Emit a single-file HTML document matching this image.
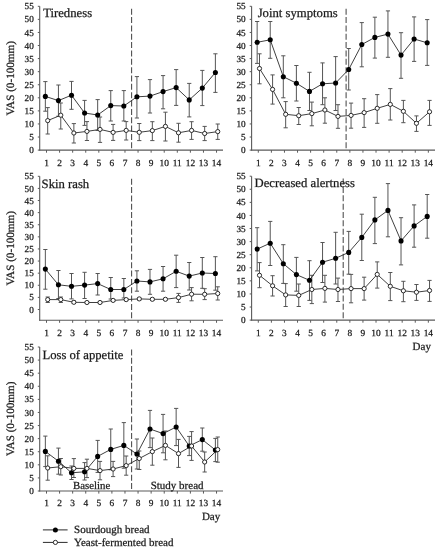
<!DOCTYPE html>
<html><head><meta charset="utf-8"><style>
html,body{margin:0;padding:0;background:#fff;}
body{width:442px;height:550px;overflow:hidden;}
svg{display:block;filter:blur(0.3px);font-family:"Liberation Serif", serif;fill:#1a1a1a;text-rendering:geometricPrecision;}
text{fill:#1a1a1a;stroke:#1a1a1a;stroke-width:0.25px;}
</style></head><body>
<svg width="442" height="550" viewBox="0 0 442 550">
<line x1="39.7" y1="6.3" x2="39.7" y2="150.6" stroke="#5a5a5a" stroke-width="1.1"/>
<line x1="39.2" y1="150.1" x2="223" y2="150.1" stroke="#5a5a5a" stroke-width="1.1"/>
<line x1="37.8" y1="150.1" x2="39.7" y2="150.1" stroke="#5a5a5a" stroke-width="1"/>
<text x="33.8" y="153.2" text-anchor="end" font-size="9.2">0</text>
<line x1="37.8" y1="137.03" x2="39.7" y2="137.03" stroke="#5a5a5a" stroke-width="1"/>
<text x="33.8" y="140.13" text-anchor="end" font-size="9.2">5</text>
<line x1="37.8" y1="123.95" x2="39.7" y2="123.95" stroke="#5a5a5a" stroke-width="1"/>
<text x="33.8" y="127.05" text-anchor="end" font-size="9.2">10</text>
<line x1="37.8" y1="110.88" x2="39.7" y2="110.88" stroke="#5a5a5a" stroke-width="1"/>
<text x="33.8" y="113.98" text-anchor="end" font-size="9.2">15</text>
<line x1="37.8" y1="97.81" x2="39.7" y2="97.81" stroke="#5a5a5a" stroke-width="1"/>
<text x="33.8" y="100.91" text-anchor="end" font-size="9.2">20</text>
<line x1="37.8" y1="84.74" x2="39.7" y2="84.74" stroke="#5a5a5a" stroke-width="1"/>
<text x="33.8" y="87.84" text-anchor="end" font-size="9.2">25</text>
<line x1="37.8" y1="71.66" x2="39.7" y2="71.66" stroke="#5a5a5a" stroke-width="1"/>
<text x="33.8" y="74.76" text-anchor="end" font-size="9.2">30</text>
<line x1="37.8" y1="58.59" x2="39.7" y2="58.59" stroke="#5a5a5a" stroke-width="1"/>
<text x="33.8" y="61.69" text-anchor="end" font-size="9.2">35</text>
<line x1="37.8" y1="45.52" x2="39.7" y2="45.52" stroke="#5a5a5a" stroke-width="1"/>
<text x="33.8" y="48.62" text-anchor="end" font-size="9.2">40</text>
<line x1="37.8" y1="32.45" x2="39.7" y2="32.45" stroke="#5a5a5a" stroke-width="1"/>
<text x="33.8" y="35.55" text-anchor="end" font-size="9.2">45</text>
<line x1="37.8" y1="19.37" x2="39.7" y2="19.37" stroke="#5a5a5a" stroke-width="1"/>
<text x="33.8" y="22.47" text-anchor="end" font-size="9.2">50</text>
<line x1="37.8" y1="6.3" x2="39.7" y2="6.3" stroke="#5a5a5a" stroke-width="1"/>
<text x="33.8" y="9.4" text-anchor="end" font-size="9.2">55</text>
<line x1="46.5" y1="150.1" x2="46.5" y2="152.7" stroke="#5a5a5a" stroke-width="1"/>
<text x="46.5" y="165.6" text-anchor="middle" font-size="9.4">1</text>
<line x1="59.58" y1="150.1" x2="59.58" y2="152.7" stroke="#5a5a5a" stroke-width="1"/>
<text x="59.58" y="165.6" text-anchor="middle" font-size="9.4">2</text>
<line x1="72.66" y1="150.1" x2="72.66" y2="152.7" stroke="#5a5a5a" stroke-width="1"/>
<text x="72.66" y="165.6" text-anchor="middle" font-size="9.4">3</text>
<line x1="85.74" y1="150.1" x2="85.74" y2="152.7" stroke="#5a5a5a" stroke-width="1"/>
<text x="85.74" y="165.6" text-anchor="middle" font-size="9.4">4</text>
<line x1="98.82" y1="150.1" x2="98.82" y2="152.7" stroke="#5a5a5a" stroke-width="1"/>
<text x="98.82" y="165.6" text-anchor="middle" font-size="9.4">5</text>
<line x1="111.9" y1="150.1" x2="111.9" y2="152.7" stroke="#5a5a5a" stroke-width="1"/>
<text x="111.9" y="165.6" text-anchor="middle" font-size="9.4">6</text>
<line x1="124.98" y1="150.1" x2="124.98" y2="152.7" stroke="#5a5a5a" stroke-width="1"/>
<text x="124.98" y="165.6" text-anchor="middle" font-size="9.4">7</text>
<line x1="138.06" y1="150.1" x2="138.06" y2="152.7" stroke="#5a5a5a" stroke-width="1"/>
<text x="138.06" y="165.6" text-anchor="middle" font-size="9.4">8</text>
<line x1="151.14" y1="150.1" x2="151.14" y2="152.7" stroke="#5a5a5a" stroke-width="1"/>
<text x="151.14" y="165.6" text-anchor="middle" font-size="9.4">9</text>
<line x1="164.22" y1="150.1" x2="164.22" y2="152.7" stroke="#5a5a5a" stroke-width="1"/>
<text x="164.22" y="165.6" text-anchor="middle" font-size="9.4">10</text>
<line x1="177.3" y1="150.1" x2="177.3" y2="152.7" stroke="#5a5a5a" stroke-width="1"/>
<text x="177.3" y="165.6" text-anchor="middle" font-size="9.4">11</text>
<line x1="190.38" y1="150.1" x2="190.38" y2="152.7" stroke="#5a5a5a" stroke-width="1"/>
<text x="190.38" y="165.6" text-anchor="middle" font-size="9.4">12</text>
<line x1="203.46" y1="150.1" x2="203.46" y2="152.7" stroke="#5a5a5a" stroke-width="1"/>
<text x="203.46" y="165.6" text-anchor="middle" font-size="9.4">13</text>
<line x1="216.54" y1="150.1" x2="216.54" y2="152.7" stroke="#5a5a5a" stroke-width="1"/>
<text x="216.54" y="165.6" text-anchor="middle" font-size="9.4">14</text>
<line x1="131.6" y1="6.3" x2="131.6" y2="150.1" stroke="#4a4a4a" stroke-width="1.05" stroke-dasharray="6 2.35" stroke-dashoffset="5.95"/>
<text x="43.2" y="17.3" font-size="12.7">Tiredness</text>
<text transform="translate(13.6 78.3) rotate(-90)" text-anchor="middle" font-size="11.15">VAS (0-100mm)</text>
<path d="M45.35 81.6V111.2M43.25 81.6H47.45M43.25 111.2H47.45" stroke="#555555" stroke-width="1.0" fill="none"/>
<path d="M58.43 85V116.2M56.33 85H60.53M56.33 116.2H60.53" stroke="#555555" stroke-width="1.0" fill="none"/>
<path d="M71.51 81.4V109.3M69.41 81.4H73.61M69.41 109.3H73.61" stroke="#555555" stroke-width="1.0" fill="none"/>
<path d="M84.59 100.4V125.4M82.49 100.4H86.69M82.49 125.4H86.69" stroke="#555555" stroke-width="1.0" fill="none"/>
<path d="M97.67 99.6V130.4M95.57 99.6H99.77M95.57 130.4H99.77" stroke="#555555" stroke-width="1.0" fill="none"/>
<path d="M110.75 90.6V121M108.65 90.6H112.85M108.65 121H112.85" stroke="#555555" stroke-width="1.0" fill="none"/>
<path d="M123.83 90.6V121M121.73 90.6H125.93M121.73 121H125.93" stroke="#555555" stroke-width="1.0" fill="none"/>
<path d="M136.91 76.6V118M134.81 76.6H139.01M134.81 118H139.01" stroke="#555555" stroke-width="1.0" fill="none"/>
<path d="M149.99 79.6V113M147.89 79.6H152.09M147.89 113H152.09" stroke="#555555" stroke-width="1.0" fill="none"/>
<path d="M163.07 75.6V108.8M160.97 75.6H165.17M160.97 108.8H165.17" stroke="#555555" stroke-width="1.0" fill="none"/>
<path d="M176.15 69.6V105.4M174.05 69.6H178.25M174.05 105.4H178.25" stroke="#555555" stroke-width="1.0" fill="none"/>
<path d="M189.23 83.4V116.9M187.13 83.4H191.33M187.13 116.9H191.33" stroke="#555555" stroke-width="1.0" fill="none"/>
<path d="M202.31 70.4V105.6M200.21 70.4H204.41M200.21 105.6H204.41" stroke="#555555" stroke-width="1.0" fill="none"/>
<path d="M215.39 53.8V92.4M213.29 53.8H217.49M213.29 92.4H217.49" stroke="#555555" stroke-width="1.0" fill="none"/>
<path d="M47.7 107.6V134M45.6 107.6H49.8M45.6 134H49.8" stroke="#555555" stroke-width="1.0" fill="none"/>
<path d="M60.78 103V129M58.68 103H62.88M58.68 129H62.88" stroke="#555555" stroke-width="1.0" fill="none"/>
<path d="M73.86 123.6V143M71.76 123.6H75.96M71.76 143H75.96" stroke="#555555" stroke-width="1.0" fill="none"/>
<path d="M86.94 121.6V140.5M84.84 121.6H89.04M84.84 140.5H89.04" stroke="#555555" stroke-width="1.0" fill="none"/>
<path d="M100.02 117V142.4M97.92 117H102.12M97.92 142.4H102.12" stroke="#555555" stroke-width="1.0" fill="none"/>
<path d="M113.1 124.4V140.4M111 124.4H115.2M111 140.4H115.2" stroke="#555555" stroke-width="1.0" fill="none"/>
<path d="M126.18 121.6V140M124.08 121.6H128.28M124.08 140H128.28" stroke="#555555" stroke-width="1.0" fill="none"/>
<path d="M139.26 123.5V140.6M137.16 123.5H141.36M137.16 140.6H141.36" stroke="#555555" stroke-width="1.0" fill="none"/>
<path d="M152.34 121.7V140.6M150.24 121.7H154.44M150.24 140.6H154.44" stroke="#555555" stroke-width="1.0" fill="none"/>
<path d="M165.42 112.2V141M163.32 112.2H167.52M163.32 141H167.52" stroke="#555555" stroke-width="1.0" fill="none"/>
<path d="M178.5 123.3V142.2M176.4 123.3H180.6M176.4 142.2H180.6" stroke="#555555" stroke-width="1.0" fill="none"/>
<path d="M191.58 121.7V139.4M189.48 121.7H193.68M189.48 139.4H193.68" stroke="#555555" stroke-width="1.0" fill="none"/>
<path d="M204.66 126.4V140.6M202.56 126.4H206.76M202.56 140.6H206.76" stroke="#555555" stroke-width="1.0" fill="none"/>
<path d="M217.74 124V139.4M215.64 124H219.84M215.64 139.4H219.84" stroke="#555555" stroke-width="1.0" fill="none"/>
<polyline points="45.35,96.4 58.43,100.6 71.51,95.2 84.59,113 97.67,115 110.75,105.6 123.83,106 136.91,96.8 149.99,96.1 163.07,91.6 176.15,87.6 189.23,99.9 202.31,88.1 215.39,72.5" fill="none" stroke="#2a2a2a" stroke-width="0.9"/>
<polyline points="47.7,120.6 60.78,115.2 73.86,133 86.94,131.4 100.02,129.4 113.1,132.4 126.18,130.4 139.26,132.3 152.34,130.6 165.42,126.4 178.5,132.8 191.58,130.4 204.66,133.5 217.74,131.6" fill="none" stroke="#2a2a2a" stroke-width="0.9"/>
<circle cx="45.35" cy="96.4" r="2.55" fill="#000"/>
<circle cx="58.43" cy="100.6" r="2.55" fill="#000"/>
<circle cx="71.51" cy="95.2" r="2.55" fill="#000"/>
<circle cx="84.59" cy="113" r="2.55" fill="#000"/>
<circle cx="97.67" cy="115" r="2.55" fill="#000"/>
<circle cx="110.75" cy="105.6" r="2.55" fill="#000"/>
<circle cx="123.83" cy="106" r="2.55" fill="#000"/>
<circle cx="136.91" cy="96.8" r="2.55" fill="#000"/>
<circle cx="149.99" cy="96.1" r="2.55" fill="#000"/>
<circle cx="163.07" cy="91.6" r="2.55" fill="#000"/>
<circle cx="176.15" cy="87.6" r="2.55" fill="#000"/>
<circle cx="189.23" cy="99.9" r="2.55" fill="#000"/>
<circle cx="202.31" cy="88.1" r="2.55" fill="#000"/>
<circle cx="215.39" cy="72.5" r="2.55" fill="#000"/>
<circle cx="47.7" cy="120.6" r="2.0999999999999996" fill="#fff" stroke="#222" stroke-width="0.95"/>
<circle cx="60.78" cy="115.2" r="2.0999999999999996" fill="#fff" stroke="#222" stroke-width="0.95"/>
<circle cx="73.86" cy="133" r="2.0999999999999996" fill="#fff" stroke="#222" stroke-width="0.95"/>
<circle cx="86.94" cy="131.4" r="2.0999999999999996" fill="#fff" stroke="#222" stroke-width="0.95"/>
<circle cx="100.02" cy="129.4" r="2.0999999999999996" fill="#fff" stroke="#222" stroke-width="0.95"/>
<circle cx="113.1" cy="132.4" r="2.0999999999999996" fill="#fff" stroke="#222" stroke-width="0.95"/>
<circle cx="126.18" cy="130.4" r="2.0999999999999996" fill="#fff" stroke="#222" stroke-width="0.95"/>
<circle cx="139.26" cy="132.3" r="2.0999999999999996" fill="#fff" stroke="#222" stroke-width="0.95"/>
<circle cx="152.34" cy="130.6" r="2.0999999999999996" fill="#fff" stroke="#222" stroke-width="0.95"/>
<circle cx="165.42" cy="126.4" r="2.0999999999999996" fill="#fff" stroke="#222" stroke-width="0.95"/>
<circle cx="178.5" cy="132.8" r="2.0999999999999996" fill="#fff" stroke="#222" stroke-width="0.95"/>
<circle cx="191.58" cy="130.4" r="2.0999999999999996" fill="#fff" stroke="#222" stroke-width="0.95"/>
<circle cx="204.66" cy="133.5" r="2.0999999999999996" fill="#fff" stroke="#222" stroke-width="0.95"/>
<circle cx="217.74" cy="131.6" r="2.0999999999999996" fill="#fff" stroke="#222" stroke-width="0.95"/>
<line x1="251.6" y1="6.3" x2="251.6" y2="150.6" stroke="#5a5a5a" stroke-width="1.1"/>
<line x1="251.1" y1="150.1" x2="435" y2="150.1" stroke="#5a5a5a" stroke-width="1.1"/>
<line x1="249.7" y1="150.1" x2="251.6" y2="150.1" stroke="#5a5a5a" stroke-width="1"/>
<text x="245.7" y="153.2" text-anchor="end" font-size="9.2">0</text>
<line x1="249.7" y1="137.03" x2="251.6" y2="137.03" stroke="#5a5a5a" stroke-width="1"/>
<text x="245.7" y="140.13" text-anchor="end" font-size="9.2">5</text>
<line x1="249.7" y1="123.95" x2="251.6" y2="123.95" stroke="#5a5a5a" stroke-width="1"/>
<text x="245.7" y="127.05" text-anchor="end" font-size="9.2">10</text>
<line x1="249.7" y1="110.88" x2="251.6" y2="110.88" stroke="#5a5a5a" stroke-width="1"/>
<text x="245.7" y="113.98" text-anchor="end" font-size="9.2">15</text>
<line x1="249.7" y1="97.81" x2="251.6" y2="97.81" stroke="#5a5a5a" stroke-width="1"/>
<text x="245.7" y="100.91" text-anchor="end" font-size="9.2">20</text>
<line x1="249.7" y1="84.74" x2="251.6" y2="84.74" stroke="#5a5a5a" stroke-width="1"/>
<text x="245.7" y="87.84" text-anchor="end" font-size="9.2">25</text>
<line x1="249.7" y1="71.66" x2="251.6" y2="71.66" stroke="#5a5a5a" stroke-width="1"/>
<text x="245.7" y="74.76" text-anchor="end" font-size="9.2">30</text>
<line x1="249.7" y1="58.59" x2="251.6" y2="58.59" stroke="#5a5a5a" stroke-width="1"/>
<text x="245.7" y="61.69" text-anchor="end" font-size="9.2">35</text>
<line x1="249.7" y1="45.52" x2="251.6" y2="45.52" stroke="#5a5a5a" stroke-width="1"/>
<text x="245.7" y="48.62" text-anchor="end" font-size="9.2">40</text>
<line x1="249.7" y1="32.45" x2="251.6" y2="32.45" stroke="#5a5a5a" stroke-width="1"/>
<text x="245.7" y="35.55" text-anchor="end" font-size="9.2">45</text>
<line x1="249.7" y1="19.37" x2="251.6" y2="19.37" stroke="#5a5a5a" stroke-width="1"/>
<text x="245.7" y="22.47" text-anchor="end" font-size="9.2">50</text>
<line x1="249.7" y1="6.3" x2="251.6" y2="6.3" stroke="#5a5a5a" stroke-width="1"/>
<text x="245.7" y="9.4" text-anchor="end" font-size="9.2">55</text>
<line x1="258.3" y1="150.1" x2="258.3" y2="152.7" stroke="#5a5a5a" stroke-width="1"/>
<text x="258.3" y="165.6" text-anchor="middle" font-size="9.4">1</text>
<line x1="271.38" y1="150.1" x2="271.38" y2="152.7" stroke="#5a5a5a" stroke-width="1"/>
<text x="271.38" y="165.6" text-anchor="middle" font-size="9.4">2</text>
<line x1="284.46" y1="150.1" x2="284.46" y2="152.7" stroke="#5a5a5a" stroke-width="1"/>
<text x="284.46" y="165.6" text-anchor="middle" font-size="9.4">3</text>
<line x1="297.54" y1="150.1" x2="297.54" y2="152.7" stroke="#5a5a5a" stroke-width="1"/>
<text x="297.54" y="165.6" text-anchor="middle" font-size="9.4">4</text>
<line x1="310.62" y1="150.1" x2="310.62" y2="152.7" stroke="#5a5a5a" stroke-width="1"/>
<text x="310.62" y="165.6" text-anchor="middle" font-size="9.4">5</text>
<line x1="323.7" y1="150.1" x2="323.7" y2="152.7" stroke="#5a5a5a" stroke-width="1"/>
<text x="323.7" y="165.6" text-anchor="middle" font-size="9.4">6</text>
<line x1="336.78" y1="150.1" x2="336.78" y2="152.7" stroke="#5a5a5a" stroke-width="1"/>
<text x="336.78" y="165.6" text-anchor="middle" font-size="9.4">7</text>
<line x1="349.86" y1="150.1" x2="349.86" y2="152.7" stroke="#5a5a5a" stroke-width="1"/>
<text x="349.86" y="165.6" text-anchor="middle" font-size="9.4">8</text>
<line x1="362.94" y1="150.1" x2="362.94" y2="152.7" stroke="#5a5a5a" stroke-width="1"/>
<text x="362.94" y="165.6" text-anchor="middle" font-size="9.4">9</text>
<line x1="376.02" y1="150.1" x2="376.02" y2="152.7" stroke="#5a5a5a" stroke-width="1"/>
<text x="376.02" y="165.6" text-anchor="middle" font-size="9.4">10</text>
<line x1="389.1" y1="150.1" x2="389.1" y2="152.7" stroke="#5a5a5a" stroke-width="1"/>
<text x="389.1" y="165.6" text-anchor="middle" font-size="9.4">11</text>
<line x1="402.18" y1="150.1" x2="402.18" y2="152.7" stroke="#5a5a5a" stroke-width="1"/>
<text x="402.18" y="165.6" text-anchor="middle" font-size="9.4">12</text>
<line x1="415.26" y1="150.1" x2="415.26" y2="152.7" stroke="#5a5a5a" stroke-width="1"/>
<text x="415.26" y="165.6" text-anchor="middle" font-size="9.4">13</text>
<line x1="428.34" y1="150.1" x2="428.34" y2="152.7" stroke="#5a5a5a" stroke-width="1"/>
<text x="428.34" y="165.6" text-anchor="middle" font-size="9.4">14</text>
<line x1="346.1" y1="6.3" x2="346.1" y2="150.1" stroke="#4a4a4a" stroke-width="1.05" stroke-dasharray="6 2.35" stroke-dashoffset="5.95"/>
<text x="257.7" y="16.8" font-size="12.7">Joint symptoms</text>
<path d="M257.15 21.5V63.4M255.05 21.5H259.25M255.05 63.4H259.25" stroke="#555555" stroke-width="1.0" fill="none"/>
<path d="M270.23 21.5V58.3M268.13 21.5H272.33M268.13 58.3H272.33" stroke="#555555" stroke-width="1.0" fill="none"/>
<path d="M283.31 55.8V97.8M281.21 55.8H285.41M281.21 97.8H285.41" stroke="#555555" stroke-width="1.0" fill="none"/>
<path d="M296.39 65.5V101M294.29 65.5H298.49M294.29 101H298.49" stroke="#555555" stroke-width="1.0" fill="none"/>
<path d="M309.47 72.3V110.5M307.37 72.3H311.57M307.37 110.5H311.57" stroke="#555555" stroke-width="1.0" fill="none"/>
<path d="M322.55 62.9V104.7M320.45 62.9H324.65M320.45 104.7H324.65" stroke="#555555" stroke-width="1.0" fill="none"/>
<path d="M335.63 56.6V110.5M333.53 56.6H337.73M333.53 110.5H337.73" stroke="#555555" stroke-width="1.0" fill="none"/>
<path d="M348.71 48.5V90M346.61 48.5H350.81M346.61 90H350.81" stroke="#555555" stroke-width="1.0" fill="none"/>
<path d="M361.79 22.6V66.8M359.69 22.6H363.89M359.69 66.8H363.89" stroke="#555555" stroke-width="1.0" fill="none"/>
<path d="M374.87 17.2V58.1M372.77 17.2H376.97M372.77 58.1H376.97" stroke="#555555" stroke-width="1.0" fill="none"/>
<path d="M387.95 10.9V57.3M385.85 10.9H390.05M385.85 57.3H390.05" stroke="#555555" stroke-width="1.0" fill="none"/>
<path d="M401.03 32.7V78.3M398.93 32.7H403.13M398.93 78.3H403.13" stroke="#555555" stroke-width="1.0" fill="none"/>
<path d="M414.11 16.9V61.4M412.01 16.9H416.21M412.01 61.4H416.21" stroke="#555555" stroke-width="1.0" fill="none"/>
<path d="M427.19 19.6V65.4M425.09 19.6H429.29M425.09 65.4H429.29" stroke="#555555" stroke-width="1.0" fill="none"/>
<path d="M259.5 53.8V83.8M257.4 53.8H261.6M257.4 83.8H261.6" stroke="#555555" stroke-width="1.0" fill="none"/>
<path d="M272.58 74.9V104.1M270.48 74.9H274.68M270.48 104.1H274.68" stroke="#555555" stroke-width="1.0" fill="none"/>
<path d="M285.66 101.6V127.8M283.56 101.6H287.76M283.56 127.8H287.76" stroke="#555555" stroke-width="1.0" fill="none"/>
<path d="M298.74 107.5V124.5M296.64 107.5H300.84M296.64 124.5H300.84" stroke="#555555" stroke-width="1.0" fill="none"/>
<path d="M311.82 102.1V125.8M309.72 102.1H313.92M309.72 125.8H313.92" stroke="#555555" stroke-width="1.0" fill="none"/>
<path d="M324.9 97.8V123.2M322.8 97.8H327M322.8 123.2H327" stroke="#555555" stroke-width="1.0" fill="none"/>
<path d="M337.98 104.7V128.3M335.88 104.7H340.08M335.88 128.3H340.08" stroke="#555555" stroke-width="1.0" fill="none"/>
<path d="M351.06 103.1V128.2M348.96 103.1H353.16M348.96 128.2H353.16" stroke="#555555" stroke-width="1.0" fill="none"/>
<path d="M364.14 98.7V127.4M362.04 98.7H366.24M362.04 127.4H366.24" stroke="#555555" stroke-width="1.0" fill="none"/>
<path d="M377.22 94.6V123.3M375.12 94.6H379.32M375.12 123.3H379.32" stroke="#555555" stroke-width="1.0" fill="none"/>
<path d="M390.3 88.6V120M388.2 88.6H392.4M388.2 120H392.4" stroke="#555555" stroke-width="1.0" fill="none"/>
<path d="M403.38 100.4V122.7M401.28 100.4H405.48M401.28 122.7H405.48" stroke="#555555" stroke-width="1.0" fill="none"/>
<path d="M416.46 115.9V131.4M414.36 115.9H418.56M414.36 131.4H418.56" stroke="#555555" stroke-width="1.0" fill="none"/>
<path d="M429.54 100.4V125.4M427.44 100.4H431.64M427.44 125.4H431.64" stroke="#555555" stroke-width="1.0" fill="none"/>
<polyline points="257.15,42.3 270.23,39.8 283.31,76.7 296.39,83.2 309.47,91.4 322.55,83.8 335.63,83 348.71,69.5 361.79,44.5 374.87,37.4 387.95,34.1 401.03,55.1 414.11,39 427.19,42.8" fill="none" stroke="#2a2a2a" stroke-width="0.9"/>
<polyline points="259.5,68.5 272.58,89.4 285.66,114.3 298.74,115.7 311.82,113.6 324.9,110 337.98,116.4 351.06,115.4 364.14,112.6 377.22,108.3 390.3,104.4 403.38,111.3 416.46,123.3 429.54,111.8" fill="none" stroke="#2a2a2a" stroke-width="0.9"/>
<circle cx="257.15" cy="42.3" r="2.55" fill="#000"/>
<circle cx="270.23" cy="39.8" r="2.55" fill="#000"/>
<circle cx="283.31" cy="76.7" r="2.55" fill="#000"/>
<circle cx="296.39" cy="83.2" r="2.55" fill="#000"/>
<circle cx="309.47" cy="91.4" r="2.55" fill="#000"/>
<circle cx="322.55" cy="83.8" r="2.55" fill="#000"/>
<circle cx="335.63" cy="83" r="2.55" fill="#000"/>
<circle cx="348.71" cy="69.5" r="2.55" fill="#000"/>
<circle cx="361.79" cy="44.5" r="2.55" fill="#000"/>
<circle cx="374.87" cy="37.4" r="2.55" fill="#000"/>
<circle cx="387.95" cy="34.1" r="2.55" fill="#000"/>
<circle cx="401.03" cy="55.1" r="2.55" fill="#000"/>
<circle cx="414.11" cy="39" r="2.55" fill="#000"/>
<circle cx="427.19" cy="42.8" r="2.55" fill="#000"/>
<circle cx="259.5" cy="68.5" r="2.0999999999999996" fill="#fff" stroke="#222" stroke-width="0.95"/>
<circle cx="272.58" cy="89.4" r="2.0999999999999996" fill="#fff" stroke="#222" stroke-width="0.95"/>
<circle cx="285.66" cy="114.3" r="2.0999999999999996" fill="#fff" stroke="#222" stroke-width="0.95"/>
<circle cx="298.74" cy="115.7" r="2.0999999999999996" fill="#fff" stroke="#222" stroke-width="0.95"/>
<circle cx="311.82" cy="113.6" r="2.0999999999999996" fill="#fff" stroke="#222" stroke-width="0.95"/>
<circle cx="324.9" cy="110" r="2.0999999999999996" fill="#fff" stroke="#222" stroke-width="0.95"/>
<circle cx="337.98" cy="116.4" r="2.0999999999999996" fill="#fff" stroke="#222" stroke-width="0.95"/>
<circle cx="351.06" cy="115.4" r="2.0999999999999996" fill="#fff" stroke="#222" stroke-width="0.95"/>
<circle cx="364.14" cy="112.6" r="2.0999999999999996" fill="#fff" stroke="#222" stroke-width="0.95"/>
<circle cx="377.22" cy="108.3" r="2.0999999999999996" fill="#fff" stroke="#222" stroke-width="0.95"/>
<circle cx="390.3" cy="104.4" r="2.0999999999999996" fill="#fff" stroke="#222" stroke-width="0.95"/>
<circle cx="403.38" cy="111.3" r="2.0999999999999996" fill="#fff" stroke="#222" stroke-width="0.95"/>
<circle cx="416.46" cy="123.3" r="2.0999999999999996" fill="#fff" stroke="#222" stroke-width="0.95"/>
<circle cx="429.54" cy="111.8" r="2.0999999999999996" fill="#fff" stroke="#222" stroke-width="0.95"/>
<line x1="39.7" y1="176.3" x2="39.7" y2="320.7" stroke="#5a5a5a" stroke-width="1.1"/>
<line x1="39.2" y1="320.2" x2="223" y2="320.2" stroke="#5a5a5a" stroke-width="1.1"/>
<line x1="37.8" y1="309.5" x2="39.7" y2="309.5" stroke="#5a5a5a" stroke-width="1"/>
<text x="33.8" y="312.6" text-anchor="end" font-size="9.2">0</text>
<line x1="37.8" y1="297.39" x2="39.7" y2="297.39" stroke="#5a5a5a" stroke-width="1"/>
<text x="33.8" y="300.49" text-anchor="end" font-size="9.2">5</text>
<line x1="37.8" y1="285.28" x2="39.7" y2="285.28" stroke="#5a5a5a" stroke-width="1"/>
<text x="33.8" y="288.38" text-anchor="end" font-size="9.2">10</text>
<line x1="37.8" y1="273.17" x2="39.7" y2="273.17" stroke="#5a5a5a" stroke-width="1"/>
<text x="33.8" y="276.27" text-anchor="end" font-size="9.2">15</text>
<line x1="37.8" y1="261.06" x2="39.7" y2="261.06" stroke="#5a5a5a" stroke-width="1"/>
<text x="33.8" y="264.16" text-anchor="end" font-size="9.2">20</text>
<line x1="37.8" y1="248.95" x2="39.7" y2="248.95" stroke="#5a5a5a" stroke-width="1"/>
<text x="33.8" y="252.05" text-anchor="end" font-size="9.2">25</text>
<line x1="37.8" y1="236.85" x2="39.7" y2="236.85" stroke="#5a5a5a" stroke-width="1"/>
<text x="33.8" y="239.95" text-anchor="end" font-size="9.2">30</text>
<line x1="37.8" y1="224.74" x2="39.7" y2="224.74" stroke="#5a5a5a" stroke-width="1"/>
<text x="33.8" y="227.84" text-anchor="end" font-size="9.2">35</text>
<line x1="37.8" y1="212.63" x2="39.7" y2="212.63" stroke="#5a5a5a" stroke-width="1"/>
<text x="33.8" y="215.73" text-anchor="end" font-size="9.2">40</text>
<line x1="37.8" y1="200.52" x2="39.7" y2="200.52" stroke="#5a5a5a" stroke-width="1"/>
<text x="33.8" y="203.62" text-anchor="end" font-size="9.2">45</text>
<line x1="37.8" y1="188.41" x2="39.7" y2="188.41" stroke="#5a5a5a" stroke-width="1"/>
<text x="33.8" y="191.51" text-anchor="end" font-size="9.2">50</text>
<line x1="37.8" y1="176.3" x2="39.7" y2="176.3" stroke="#5a5a5a" stroke-width="1"/>
<text x="33.8" y="179.4" text-anchor="end" font-size="9.2">55</text>
<line x1="46.5" y1="320.2" x2="46.5" y2="322.8" stroke="#5a5a5a" stroke-width="1"/>
<text x="46.5" y="335.7" text-anchor="middle" font-size="9.4">1</text>
<line x1="59.58" y1="320.2" x2="59.58" y2="322.8" stroke="#5a5a5a" stroke-width="1"/>
<text x="59.58" y="335.7" text-anchor="middle" font-size="9.4">2</text>
<line x1="72.66" y1="320.2" x2="72.66" y2="322.8" stroke="#5a5a5a" stroke-width="1"/>
<text x="72.66" y="335.7" text-anchor="middle" font-size="9.4">3</text>
<line x1="85.74" y1="320.2" x2="85.74" y2="322.8" stroke="#5a5a5a" stroke-width="1"/>
<text x="85.74" y="335.7" text-anchor="middle" font-size="9.4">4</text>
<line x1="98.82" y1="320.2" x2="98.82" y2="322.8" stroke="#5a5a5a" stroke-width="1"/>
<text x="98.82" y="335.7" text-anchor="middle" font-size="9.4">5</text>
<line x1="111.9" y1="320.2" x2="111.9" y2="322.8" stroke="#5a5a5a" stroke-width="1"/>
<text x="111.9" y="335.7" text-anchor="middle" font-size="9.4">6</text>
<line x1="124.98" y1="320.2" x2="124.98" y2="322.8" stroke="#5a5a5a" stroke-width="1"/>
<text x="124.98" y="335.7" text-anchor="middle" font-size="9.4">7</text>
<line x1="138.06" y1="320.2" x2="138.06" y2="322.8" stroke="#5a5a5a" stroke-width="1"/>
<text x="138.06" y="335.7" text-anchor="middle" font-size="9.4">8</text>
<line x1="151.14" y1="320.2" x2="151.14" y2="322.8" stroke="#5a5a5a" stroke-width="1"/>
<text x="151.14" y="335.7" text-anchor="middle" font-size="9.4">9</text>
<line x1="164.22" y1="320.2" x2="164.22" y2="322.8" stroke="#5a5a5a" stroke-width="1"/>
<text x="164.22" y="335.7" text-anchor="middle" font-size="9.4">10</text>
<line x1="177.3" y1="320.2" x2="177.3" y2="322.8" stroke="#5a5a5a" stroke-width="1"/>
<text x="177.3" y="335.7" text-anchor="middle" font-size="9.4">11</text>
<line x1="190.38" y1="320.2" x2="190.38" y2="322.8" stroke="#5a5a5a" stroke-width="1"/>
<text x="190.38" y="335.7" text-anchor="middle" font-size="9.4">12</text>
<line x1="203.46" y1="320.2" x2="203.46" y2="322.8" stroke="#5a5a5a" stroke-width="1"/>
<text x="203.46" y="335.7" text-anchor="middle" font-size="9.4">13</text>
<line x1="216.54" y1="320.2" x2="216.54" y2="322.8" stroke="#5a5a5a" stroke-width="1"/>
<text x="216.54" y="335.7" text-anchor="middle" font-size="9.4">14</text>
<line x1="131.6" y1="176.3" x2="131.6" y2="320.2" stroke="#4a4a4a" stroke-width="1.05" stroke-dasharray="6 2.35" stroke-dashoffset="5.95"/>
<text x="41.6" y="187.5" font-size="12.7">Skin rash</text>
<text transform="translate(13.6 248.3) rotate(-90)" text-anchor="middle" font-size="11.15">VAS (0-100mm)</text>
<path d="M45.35 249.5V289.2M43.25 249.5H47.45M43.25 289.2H47.45" stroke="#555555" stroke-width="1.0" fill="none"/>
<path d="M58.43 270.5V298.5M56.33 270.5H60.53M56.33 298.5H60.53" stroke="#555555" stroke-width="1.0" fill="none"/>
<path d="M71.51 273.5V298.9M69.41 273.5H73.61M69.41 298.9H73.61" stroke="#555555" stroke-width="1.0" fill="none"/>
<path d="M84.59 272.3V298.5M82.49 272.3H86.69M82.49 298.5H86.69" stroke="#555555" stroke-width="1.0" fill="none"/>
<path d="M97.67 273.5V295M95.57 273.5H99.77M95.57 295H99.77" stroke="#555555" stroke-width="1.0" fill="none"/>
<path d="M110.75 277.5V299M108.65 277.5H112.85M108.65 299H112.85" stroke="#555555" stroke-width="1.0" fill="none"/>
<path d="M123.83 278.5V298M121.73 278.5H125.93M121.73 298H125.93" stroke="#555555" stroke-width="1.0" fill="none"/>
<path d="M136.91 270.8V291.2M134.81 270.8H139.01M134.81 291.2H139.01" stroke="#555555" stroke-width="1.0" fill="none"/>
<path d="M149.99 269.4V294.3M147.89 269.4H152.09M147.89 294.3H152.09" stroke="#555555" stroke-width="1.0" fill="none"/>
<path d="M163.07 266.5V291.2M160.97 266.5H165.17M160.97 291.2H165.17" stroke="#555555" stroke-width="1.0" fill="none"/>
<path d="M176.15 255.2V287.6M174.05 255.2H178.25M174.05 287.6H178.25" stroke="#555555" stroke-width="1.0" fill="none"/>
<path d="M189.23 262.5V290M187.13 262.5H191.33M187.13 290H191.33" stroke="#555555" stroke-width="1.0" fill="none"/>
<path d="M202.31 257.5V288.3M200.21 257.5H204.41M200.21 288.3H204.41" stroke="#555555" stroke-width="1.0" fill="none"/>
<path d="M215.39 256.7V290.2M213.29 256.7H217.49M213.29 290.2H217.49" stroke="#555555" stroke-width="1.0" fill="none"/>
<path d="M47.7 297V302.5M45.6 297H49.8M45.6 302.5H49.8" stroke="#555555" stroke-width="1.0" fill="none"/>
<path d="M60.78 297V302.5M58.68 297H62.88M58.68 302.5H62.88" stroke="#555555" stroke-width="1.0" fill="none"/>
<path d="M73.86 301V303.5M71.76 301H75.96M71.76 303.5H75.96" stroke="#555555" stroke-width="1.0" fill="none"/>
<path d="M86.94 301.5V303.5M84.84 301.5H89.04M84.84 303.5H89.04" stroke="#555555" stroke-width="1.0" fill="none"/>
<path d="M100.02 301.5V303.5M97.92 301.5H102.12M97.92 303.5H102.12" stroke="#555555" stroke-width="1.0" fill="none"/>
<path d="M113.1 299.5V301.5M111 299.5H115.2M111 301.5H115.2" stroke="#555555" stroke-width="1.0" fill="none"/>
<path d="M126.18 298.6V300.6M124.08 298.6H128.28M124.08 300.6H128.28" stroke="#555555" stroke-width="1.0" fill="none"/>
<path d="M139.26 298V300M137.16 298H141.36M137.16 300H141.36" stroke="#555555" stroke-width="1.0" fill="none"/>
<path d="M152.34 298.3V300.3M150.24 298.3H154.44M150.24 300.3H154.44" stroke="#555555" stroke-width="1.0" fill="none"/>
<path d="M165.42 298.3V300.3M163.32 298.3H167.52M163.32 300.3H167.52" stroke="#555555" stroke-width="1.0" fill="none"/>
<path d="M178.5 293.4V302.4M176.4 293.4H180.6M176.4 302.4H180.6" stroke="#555555" stroke-width="1.0" fill="none"/>
<path d="M191.58 287.6V300.8M189.48 287.6H193.68M189.48 300.8H193.68" stroke="#555555" stroke-width="1.0" fill="none"/>
<path d="M204.66 288.7V299.6M202.56 288.7H206.76M202.56 299.6H206.76" stroke="#555555" stroke-width="1.0" fill="none"/>
<path d="M217.74 286.8V300M215.64 286.8H219.84M215.64 300H219.84" stroke="#555555" stroke-width="1.0" fill="none"/>
<polyline points="45.35,269.1 58.43,284.8 71.51,286.3 84.59,285.1 97.67,283.6 110.75,289.5 123.83,289.5 136.91,281 149.99,281.9 163.07,278.8 176.15,271.3 189.23,276.1 202.31,273 215.39,273.5" fill="none" stroke="#2a2a2a" stroke-width="0.9"/>
<polyline points="47.7,299.6 60.78,299.6 73.86,302.3 86.94,302.5 100.02,302.5 113.1,300.4 126.18,299.6 139.26,298.9 152.34,299.3 165.42,299.3 178.5,297.6 191.58,294.2 204.66,294.3 217.74,293.5" fill="none" stroke="#2a2a2a" stroke-width="0.9"/>
<circle cx="45.35" cy="269.1" r="2.55" fill="#000"/>
<circle cx="58.43" cy="284.8" r="2.55" fill="#000"/>
<circle cx="71.51" cy="286.3" r="2.55" fill="#000"/>
<circle cx="84.59" cy="285.1" r="2.55" fill="#000"/>
<circle cx="97.67" cy="283.6" r="2.55" fill="#000"/>
<circle cx="110.75" cy="289.5" r="2.55" fill="#000"/>
<circle cx="123.83" cy="289.5" r="2.55" fill="#000"/>
<circle cx="136.91" cy="281" r="2.55" fill="#000"/>
<circle cx="149.99" cy="281.9" r="2.55" fill="#000"/>
<circle cx="163.07" cy="278.8" r="2.55" fill="#000"/>
<circle cx="176.15" cy="271.3" r="2.55" fill="#000"/>
<circle cx="189.23" cy="276.1" r="2.55" fill="#000"/>
<circle cx="202.31" cy="273" r="2.55" fill="#000"/>
<circle cx="215.39" cy="273.5" r="2.55" fill="#000"/>
<circle cx="47.7" cy="299.6" r="2.0999999999999996" fill="#fff" stroke="#222" stroke-width="0.95"/>
<circle cx="60.78" cy="299.6" r="2.0999999999999996" fill="#fff" stroke="#222" stroke-width="0.95"/>
<circle cx="73.86" cy="302.3" r="2.0999999999999996" fill="#fff" stroke="#222" stroke-width="0.95"/>
<circle cx="86.94" cy="302.5" r="2.0999999999999996" fill="#fff" stroke="#222" stroke-width="0.95"/>
<circle cx="100.02" cy="302.5" r="2.0999999999999996" fill="#fff" stroke="#222" stroke-width="0.95"/>
<circle cx="113.1" cy="300.4" r="2.0999999999999996" fill="#fff" stroke="#222" stroke-width="0.95"/>
<circle cx="126.18" cy="299.6" r="2.0999999999999996" fill="#fff" stroke="#222" stroke-width="0.95"/>
<circle cx="139.26" cy="298.9" r="2.0999999999999996" fill="#fff" stroke="#222" stroke-width="0.95"/>
<circle cx="152.34" cy="299.3" r="2.0999999999999996" fill="#fff" stroke="#222" stroke-width="0.95"/>
<circle cx="165.42" cy="299.3" r="2.0999999999999996" fill="#fff" stroke="#222" stroke-width="0.95"/>
<circle cx="178.5" cy="297.6" r="2.0999999999999996" fill="#fff" stroke="#222" stroke-width="0.95"/>
<circle cx="191.58" cy="294.2" r="2.0999999999999996" fill="#fff" stroke="#222" stroke-width="0.95"/>
<circle cx="204.66" cy="294.3" r="2.0999999999999996" fill="#fff" stroke="#222" stroke-width="0.95"/>
<circle cx="217.74" cy="293.5" r="2.0999999999999996" fill="#fff" stroke="#222" stroke-width="0.95"/>
<line x1="251.6" y1="176.2" x2="251.6" y2="320.6" stroke="#5a5a5a" stroke-width="1.1"/>
<line x1="251.1" y1="320.1" x2="435" y2="320.1" stroke="#5a5a5a" stroke-width="1.1"/>
<line x1="249.7" y1="320.1" x2="251.6" y2="320.1" stroke="#5a5a5a" stroke-width="1"/>
<text x="245.7" y="323.2" text-anchor="end" font-size="9.2">0</text>
<line x1="249.7" y1="307.02" x2="251.6" y2="307.02" stroke="#5a5a5a" stroke-width="1"/>
<text x="245.7" y="310.12" text-anchor="end" font-size="9.2">5</text>
<line x1="249.7" y1="293.94" x2="251.6" y2="293.94" stroke="#5a5a5a" stroke-width="1"/>
<text x="245.7" y="297.04" text-anchor="end" font-size="9.2">10</text>
<line x1="249.7" y1="280.85" x2="251.6" y2="280.85" stroke="#5a5a5a" stroke-width="1"/>
<text x="245.7" y="283.95" text-anchor="end" font-size="9.2">15</text>
<line x1="249.7" y1="267.77" x2="251.6" y2="267.77" stroke="#5a5a5a" stroke-width="1"/>
<text x="245.7" y="270.87" text-anchor="end" font-size="9.2">20</text>
<line x1="249.7" y1="254.69" x2="251.6" y2="254.69" stroke="#5a5a5a" stroke-width="1"/>
<text x="245.7" y="257.79" text-anchor="end" font-size="9.2">25</text>
<line x1="249.7" y1="241.61" x2="251.6" y2="241.61" stroke="#5a5a5a" stroke-width="1"/>
<text x="245.7" y="244.71" text-anchor="end" font-size="9.2">30</text>
<line x1="249.7" y1="228.53" x2="251.6" y2="228.53" stroke="#5a5a5a" stroke-width="1"/>
<text x="245.7" y="231.63" text-anchor="end" font-size="9.2">35</text>
<line x1="249.7" y1="215.45" x2="251.6" y2="215.45" stroke="#5a5a5a" stroke-width="1"/>
<text x="245.7" y="218.55" text-anchor="end" font-size="9.2">40</text>
<line x1="249.7" y1="202.36" x2="251.6" y2="202.36" stroke="#5a5a5a" stroke-width="1"/>
<text x="245.7" y="205.46" text-anchor="end" font-size="9.2">45</text>
<line x1="249.7" y1="189.28" x2="251.6" y2="189.28" stroke="#5a5a5a" stroke-width="1"/>
<text x="245.7" y="192.38" text-anchor="end" font-size="9.2">50</text>
<line x1="249.7" y1="176.2" x2="251.6" y2="176.2" stroke="#5a5a5a" stroke-width="1"/>
<text x="245.7" y="179.3" text-anchor="end" font-size="9.2">55</text>
<line x1="258.3" y1="320.1" x2="258.3" y2="322.7" stroke="#5a5a5a" stroke-width="1"/>
<text x="258.3" y="335.6" text-anchor="middle" font-size="9.4">1</text>
<line x1="271.38" y1="320.1" x2="271.38" y2="322.7" stroke="#5a5a5a" stroke-width="1"/>
<text x="271.38" y="335.6" text-anchor="middle" font-size="9.4">2</text>
<line x1="284.46" y1="320.1" x2="284.46" y2="322.7" stroke="#5a5a5a" stroke-width="1"/>
<text x="284.46" y="335.6" text-anchor="middle" font-size="9.4">3</text>
<line x1="297.54" y1="320.1" x2="297.54" y2="322.7" stroke="#5a5a5a" stroke-width="1"/>
<text x="297.54" y="335.6" text-anchor="middle" font-size="9.4">4</text>
<line x1="310.62" y1="320.1" x2="310.62" y2="322.7" stroke="#5a5a5a" stroke-width="1"/>
<text x="310.62" y="335.6" text-anchor="middle" font-size="9.4">5</text>
<line x1="323.7" y1="320.1" x2="323.7" y2="322.7" stroke="#5a5a5a" stroke-width="1"/>
<text x="323.7" y="335.6" text-anchor="middle" font-size="9.4">6</text>
<line x1="336.78" y1="320.1" x2="336.78" y2="322.7" stroke="#5a5a5a" stroke-width="1"/>
<text x="336.78" y="335.6" text-anchor="middle" font-size="9.4">7</text>
<line x1="349.86" y1="320.1" x2="349.86" y2="322.7" stroke="#5a5a5a" stroke-width="1"/>
<text x="349.86" y="335.6" text-anchor="middle" font-size="9.4">8</text>
<line x1="362.94" y1="320.1" x2="362.94" y2="322.7" stroke="#5a5a5a" stroke-width="1"/>
<text x="362.94" y="335.6" text-anchor="middle" font-size="9.4">9</text>
<line x1="376.02" y1="320.1" x2="376.02" y2="322.7" stroke="#5a5a5a" stroke-width="1"/>
<text x="376.02" y="335.6" text-anchor="middle" font-size="9.4">10</text>
<line x1="389.1" y1="320.1" x2="389.1" y2="322.7" stroke="#5a5a5a" stroke-width="1"/>
<text x="389.1" y="335.6" text-anchor="middle" font-size="9.4">11</text>
<line x1="402.18" y1="320.1" x2="402.18" y2="322.7" stroke="#5a5a5a" stroke-width="1"/>
<text x="402.18" y="335.6" text-anchor="middle" font-size="9.4">12</text>
<line x1="415.26" y1="320.1" x2="415.26" y2="322.7" stroke="#5a5a5a" stroke-width="1"/>
<text x="415.26" y="335.6" text-anchor="middle" font-size="9.4">13</text>
<line x1="428.34" y1="320.1" x2="428.34" y2="322.7" stroke="#5a5a5a" stroke-width="1"/>
<text x="428.34" y="335.6" text-anchor="middle" font-size="9.4">14</text>
<line x1="343.2" y1="176.2" x2="343.2" y2="320.1" stroke="#4a4a4a" stroke-width="1.05" stroke-dasharray="6 2.35" stroke-dashoffset="5.95"/>
<text x="254.5" y="187" font-size="12.7">Decreased alertness</text>
<path d="M257.15 227.7V270.9M255.05 227.7H259.25M255.05 270.9H259.25" stroke="#555555" stroke-width="1.0" fill="none"/>
<path d="M270.23 221.4V265.5M268.13 221.4H272.33M268.13 265.5H272.33" stroke="#555555" stroke-width="1.0" fill="none"/>
<path d="M283.31 244.7V283.4M281.21 244.7H285.41M281.21 283.4H285.41" stroke="#555555" stroke-width="1.0" fill="none"/>
<path d="M296.39 257.4V291.2M294.29 257.4H298.49M294.29 291.2H298.49" stroke="#555555" stroke-width="1.0" fill="none"/>
<path d="M309.47 260.7V300.4M307.37 260.7H311.57M307.37 300.4H311.57" stroke="#555555" stroke-width="1.0" fill="none"/>
<path d="M322.55 242.5V282.5M320.45 242.5H324.65M320.45 282.5H324.65" stroke="#555555" stroke-width="1.0" fill="none"/>
<path d="M335.63 232.3V284M333.53 232.3H337.73M333.53 284H337.73" stroke="#555555" stroke-width="1.0" fill="none"/>
<path d="M348.71 231.4V274.2M346.61 231.4H350.81M346.61 274.2H350.81" stroke="#555555" stroke-width="1.0" fill="none"/>
<path d="M361.79 214.2V260.5M359.69 214.2H363.89M359.69 260.5H363.89" stroke="#555555" stroke-width="1.0" fill="none"/>
<path d="M374.87 197.3V243.6M372.77 197.3H376.97M372.77 243.6H376.97" stroke="#555555" stroke-width="1.0" fill="none"/>
<path d="M387.95 183.6V236.8M385.85 183.6H390.05M385.85 236.8H390.05" stroke="#555555" stroke-width="1.0" fill="none"/>
<path d="M401.03 217.7V264.9M398.93 217.7H403.13M398.93 264.9H403.13" stroke="#555555" stroke-width="1.0" fill="none"/>
<path d="M414.11 204.9V247.2M412.01 204.9H416.21M412.01 247.2H416.21" stroke="#555555" stroke-width="1.0" fill="none"/>
<path d="M427.19 194.5V238.2M425.09 194.5H429.29M425.09 238.2H429.29" stroke="#555555" stroke-width="1.0" fill="none"/>
<path d="M259.5 262.6V287.7M257.4 262.6H261.6M257.4 287.7H261.6" stroke="#555555" stroke-width="1.0" fill="none"/>
<path d="M272.58 275.7V296M270.48 275.7H274.68M270.48 296H274.68" stroke="#555555" stroke-width="1.0" fill="none"/>
<path d="M285.66 283.6V306.5M283.56 283.6H287.76M283.56 306.5H287.76" stroke="#555555" stroke-width="1.0" fill="none"/>
<path d="M298.74 284V306.5M296.64 284H300.84M296.64 306.5H300.84" stroke="#555555" stroke-width="1.0" fill="none"/>
<path d="M311.82 275.3V303.6M309.72 275.3H313.92M309.72 303.6H313.92" stroke="#555555" stroke-width="1.0" fill="none"/>
<path d="M324.9 275.3V302.1M322.8 275.3H327M322.8 302.1H327" stroke="#555555" stroke-width="1.0" fill="none"/>
<path d="M337.98 278.1V301.5M335.88 278.1H340.08M335.88 301.5H340.08" stroke="#555555" stroke-width="1.0" fill="none"/>
<path d="M351.06 274.4V302.8M348.96 274.4H353.16M348.96 302.8H353.16" stroke="#555555" stroke-width="1.0" fill="none"/>
<path d="M364.14 277.2V300.1M362.04 277.2H366.24M362.04 300.1H366.24" stroke="#555555" stroke-width="1.0" fill="none"/>
<path d="M377.22 261.9V288.1M375.12 261.9H379.32M375.12 288.1H379.32" stroke="#555555" stroke-width="1.0" fill="none"/>
<path d="M390.3 272.5V300.6M388.2 272.5H392.4M388.2 300.6H392.4" stroke="#555555" stroke-width="1.0" fill="none"/>
<path d="M403.38 281.3V301.7M401.28 281.3H405.48M401.28 301.7H405.48" stroke="#555555" stroke-width="1.0" fill="none"/>
<path d="M416.46 284.5V300.4M414.36 284.5H418.56M414.36 300.4H418.56" stroke="#555555" stroke-width="1.0" fill="none"/>
<path d="M429.54 280.4V301.4M427.44 280.4H431.64M427.44 301.4H431.64" stroke="#555555" stroke-width="1.0" fill="none"/>
<polyline points="257.15,249.1 270.23,243.2 283.31,263.7 296.39,274.6 309.47,280.3 322.55,262.2 335.63,258.3 348.71,252.4 361.79,237.4 374.87,219.9 387.95,210.4 401.03,240.9 414.11,225.9 427.19,216.4" fill="none" stroke="#2a2a2a" stroke-width="0.9"/>
<polyline points="259.5,275.3 272.58,285.8 285.66,294.9 298.74,295.4 311.82,289.5 324.9,288.4 337.98,289.5 351.06,288.6 364.14,288.6 377.22,274.4 390.3,286.3 403.38,290.8 416.46,292.2 429.54,290.5" fill="none" stroke="#2a2a2a" stroke-width="0.9"/>
<circle cx="257.15" cy="249.1" r="2.55" fill="#000"/>
<circle cx="270.23" cy="243.2" r="2.55" fill="#000"/>
<circle cx="283.31" cy="263.7" r="2.55" fill="#000"/>
<circle cx="296.39" cy="274.6" r="2.55" fill="#000"/>
<circle cx="309.47" cy="280.3" r="2.55" fill="#000"/>
<circle cx="322.55" cy="262.2" r="2.55" fill="#000"/>
<circle cx="335.63" cy="258.3" r="2.55" fill="#000"/>
<circle cx="348.71" cy="252.4" r="2.55" fill="#000"/>
<circle cx="361.79" cy="237.4" r="2.55" fill="#000"/>
<circle cx="374.87" cy="219.9" r="2.55" fill="#000"/>
<circle cx="387.95" cy="210.4" r="2.55" fill="#000"/>
<circle cx="401.03" cy="240.9" r="2.55" fill="#000"/>
<circle cx="414.11" cy="225.9" r="2.55" fill="#000"/>
<circle cx="427.19" cy="216.4" r="2.55" fill="#000"/>
<circle cx="259.5" cy="275.3" r="2.0999999999999996" fill="#fff" stroke="#222" stroke-width="0.95"/>
<circle cx="272.58" cy="285.8" r="2.0999999999999996" fill="#fff" stroke="#222" stroke-width="0.95"/>
<circle cx="285.66" cy="294.9" r="2.0999999999999996" fill="#fff" stroke="#222" stroke-width="0.95"/>
<circle cx="298.74" cy="295.4" r="2.0999999999999996" fill="#fff" stroke="#222" stroke-width="0.95"/>
<circle cx="311.82" cy="289.5" r="2.0999999999999996" fill="#fff" stroke="#222" stroke-width="0.95"/>
<circle cx="324.9" cy="288.4" r="2.0999999999999996" fill="#fff" stroke="#222" stroke-width="0.95"/>
<circle cx="337.98" cy="289.5" r="2.0999999999999996" fill="#fff" stroke="#222" stroke-width="0.95"/>
<circle cx="351.06" cy="288.6" r="2.0999999999999996" fill="#fff" stroke="#222" stroke-width="0.95"/>
<circle cx="364.14" cy="288.6" r="2.0999999999999996" fill="#fff" stroke="#222" stroke-width="0.95"/>
<circle cx="377.22" cy="274.4" r="2.0999999999999996" fill="#fff" stroke="#222" stroke-width="0.95"/>
<circle cx="390.3" cy="286.3" r="2.0999999999999996" fill="#fff" stroke="#222" stroke-width="0.95"/>
<circle cx="403.38" cy="290.8" r="2.0999999999999996" fill="#fff" stroke="#222" stroke-width="0.95"/>
<circle cx="416.46" cy="292.2" r="2.0999999999999996" fill="#fff" stroke="#222" stroke-width="0.95"/>
<circle cx="429.54" cy="290.5" r="2.0999999999999996" fill="#fff" stroke="#222" stroke-width="0.95"/>
<line x1="39.7" y1="347" x2="39.7" y2="491.5" stroke="#5a5a5a" stroke-width="1.1"/>
<line x1="39.2" y1="491" x2="223" y2="491" stroke="#5a5a5a" stroke-width="1.1"/>
<line x1="37.8" y1="491" x2="39.7" y2="491" stroke="#5a5a5a" stroke-width="1"/>
<text x="33.8" y="494.1" text-anchor="end" font-size="9.2">0</text>
<line x1="37.8" y1="477.91" x2="39.7" y2="477.91" stroke="#5a5a5a" stroke-width="1"/>
<text x="33.8" y="481.01" text-anchor="end" font-size="9.2">5</text>
<line x1="37.8" y1="464.82" x2="39.7" y2="464.82" stroke="#5a5a5a" stroke-width="1"/>
<text x="33.8" y="467.92" text-anchor="end" font-size="9.2">10</text>
<line x1="37.8" y1="451.73" x2="39.7" y2="451.73" stroke="#5a5a5a" stroke-width="1"/>
<text x="33.8" y="454.83" text-anchor="end" font-size="9.2">15</text>
<line x1="37.8" y1="438.64" x2="39.7" y2="438.64" stroke="#5a5a5a" stroke-width="1"/>
<text x="33.8" y="441.74" text-anchor="end" font-size="9.2">20</text>
<line x1="37.8" y1="425.55" x2="39.7" y2="425.55" stroke="#5a5a5a" stroke-width="1"/>
<text x="33.8" y="428.65" text-anchor="end" font-size="9.2">25</text>
<line x1="37.8" y1="412.45" x2="39.7" y2="412.45" stroke="#5a5a5a" stroke-width="1"/>
<text x="33.8" y="415.55" text-anchor="end" font-size="9.2">30</text>
<line x1="37.8" y1="399.36" x2="39.7" y2="399.36" stroke="#5a5a5a" stroke-width="1"/>
<text x="33.8" y="402.46" text-anchor="end" font-size="9.2">35</text>
<line x1="37.8" y1="386.27" x2="39.7" y2="386.27" stroke="#5a5a5a" stroke-width="1"/>
<text x="33.8" y="389.37" text-anchor="end" font-size="9.2">40</text>
<line x1="37.8" y1="373.18" x2="39.7" y2="373.18" stroke="#5a5a5a" stroke-width="1"/>
<text x="33.8" y="376.28" text-anchor="end" font-size="9.2">45</text>
<line x1="37.8" y1="360.09" x2="39.7" y2="360.09" stroke="#5a5a5a" stroke-width="1"/>
<text x="33.8" y="363.19" text-anchor="end" font-size="9.2">50</text>
<line x1="37.8" y1="347" x2="39.7" y2="347" stroke="#5a5a5a" stroke-width="1"/>
<text x="33.8" y="350.1" text-anchor="end" font-size="9.2">55</text>
<line x1="46.5" y1="491" x2="46.5" y2="493.6" stroke="#5a5a5a" stroke-width="1"/>
<text x="46.5" y="506.1" text-anchor="middle" font-size="9.4">1</text>
<line x1="59.58" y1="491" x2="59.58" y2="493.6" stroke="#5a5a5a" stroke-width="1"/>
<text x="59.58" y="506.1" text-anchor="middle" font-size="9.4">2</text>
<line x1="72.66" y1="491" x2="72.66" y2="493.6" stroke="#5a5a5a" stroke-width="1"/>
<text x="72.66" y="506.1" text-anchor="middle" font-size="9.4">3</text>
<line x1="85.74" y1="491" x2="85.74" y2="493.6" stroke="#5a5a5a" stroke-width="1"/>
<text x="85.74" y="506.1" text-anchor="middle" font-size="9.4">4</text>
<line x1="98.82" y1="491" x2="98.82" y2="493.6" stroke="#5a5a5a" stroke-width="1"/>
<text x="98.82" y="506.1" text-anchor="middle" font-size="9.4">5</text>
<line x1="111.9" y1="491" x2="111.9" y2="493.6" stroke="#5a5a5a" stroke-width="1"/>
<text x="111.9" y="506.1" text-anchor="middle" font-size="9.4">6</text>
<line x1="124.98" y1="491" x2="124.98" y2="493.6" stroke="#5a5a5a" stroke-width="1"/>
<text x="124.98" y="506.1" text-anchor="middle" font-size="9.4">7</text>
<line x1="138.06" y1="491" x2="138.06" y2="493.6" stroke="#5a5a5a" stroke-width="1"/>
<text x="138.06" y="506.1" text-anchor="middle" font-size="9.4">8</text>
<line x1="151.14" y1="491" x2="151.14" y2="493.6" stroke="#5a5a5a" stroke-width="1"/>
<text x="151.14" y="506.1" text-anchor="middle" font-size="9.4">9</text>
<line x1="164.22" y1="491" x2="164.22" y2="493.6" stroke="#5a5a5a" stroke-width="1"/>
<text x="164.22" y="506.1" text-anchor="middle" font-size="9.4">10</text>
<line x1="177.3" y1="491" x2="177.3" y2="493.6" stroke="#5a5a5a" stroke-width="1"/>
<text x="177.3" y="506.1" text-anchor="middle" font-size="9.4">11</text>
<line x1="190.38" y1="491" x2="190.38" y2="493.6" stroke="#5a5a5a" stroke-width="1"/>
<text x="190.38" y="506.1" text-anchor="middle" font-size="9.4">12</text>
<line x1="203.46" y1="491" x2="203.46" y2="493.6" stroke="#5a5a5a" stroke-width="1"/>
<text x="203.46" y="506.1" text-anchor="middle" font-size="9.4">13</text>
<line x1="216.54" y1="491" x2="216.54" y2="493.6" stroke="#5a5a5a" stroke-width="1"/>
<text x="216.54" y="506.1" text-anchor="middle" font-size="9.4">14</text>
<line x1="131.6" y1="347" x2="131.6" y2="491" stroke="#4a4a4a" stroke-width="1.05" stroke-dasharray="6 2.35" stroke-dashoffset="5.95"/>
<text x="42.4" y="359.2" font-size="12.7">Loss of appetite</text>
<text transform="translate(13.6 418.8) rotate(-90)" text-anchor="middle" font-size="11.15">VAS (0-100mm)</text>
<path d="M45.35 436.1V466.6M43.25 436.1H47.45M43.25 466.6H47.45" stroke="#555555" stroke-width="1.0" fill="none"/>
<path d="M58.43 448.1V474.2M56.33 448.1H60.53M56.33 474.2H60.53" stroke="#555555" stroke-width="1.0" fill="none"/>
<path d="M71.51 466V479.5M69.41 466H73.61M69.41 479.5H73.61" stroke="#555555" stroke-width="1.0" fill="none"/>
<path d="M84.59 462.6V480M82.49 462.6H86.69M82.49 480H86.69" stroke="#555555" stroke-width="1.0" fill="none"/>
<path d="M97.67 440.4V472.4M95.57 440.4H99.77M95.57 472.4H99.77" stroke="#555555" stroke-width="1.0" fill="none"/>
<path d="M110.75 429V469.8M108.65 429H112.85M108.65 469.8H112.85" stroke="#555555" stroke-width="1.0" fill="none"/>
<path d="M123.83 422.6V468.2M121.73 422.6H125.93M121.73 468.2H125.93" stroke="#555555" stroke-width="1.0" fill="none"/>
<path d="M136.91 439V469M134.81 439H139.01M134.81 469H139.01" stroke="#555555" stroke-width="1.0" fill="none"/>
<path d="M149.99 410.4V447.6M147.89 410.4H152.09M147.89 447.6H152.09" stroke="#555555" stroke-width="1.0" fill="none"/>
<path d="M163.07 414.4V452.8M160.97 414.4H165.17M160.97 452.8H165.17" stroke="#555555" stroke-width="1.0" fill="none"/>
<path d="M176.15 408.4V445.6M174.05 408.4H178.25M174.05 445.6H178.25" stroke="#555555" stroke-width="1.0" fill="none"/>
<path d="M189.23 436.4V455.6M187.13 436.4H191.33M187.13 455.6H191.33" stroke="#555555" stroke-width="1.0" fill="none"/>
<path d="M202.31 428V451.2M200.21 428H204.41M200.21 451.2H204.41" stroke="#555555" stroke-width="1.0" fill="none"/>
<path d="M215.39 438.4V461.6M213.29 438.4H217.49M213.29 461.6H217.49" stroke="#555555" stroke-width="1.0" fill="none"/>
<path d="M47.7 455.8V480.2M45.6 455.8H49.8M45.6 480.2H49.8" stroke="#555555" stroke-width="1.0" fill="none"/>
<path d="M60.78 458.5V475M58.68 458.5H62.88M58.68 475H62.88" stroke="#555555" stroke-width="1.0" fill="none"/>
<path d="M73.86 458.6V477.5M71.76 458.6H75.96M71.76 477.5H75.96" stroke="#555555" stroke-width="1.0" fill="none"/>
<path d="M86.94 459.2V477.6M84.84 459.2H89.04M84.84 477.6H89.04" stroke="#555555" stroke-width="1.0" fill="none"/>
<path d="M100.02 461.4V479.8M97.92 461.4H102.12M97.92 479.8H102.12" stroke="#555555" stroke-width="1.0" fill="none"/>
<path d="M113.1 461.4V476.6M111 461.4H115.2M111 476.6H115.2" stroke="#555555" stroke-width="1.0" fill="none"/>
<path d="M126.18 456V475.2M124.08 456H128.28M124.08 475.2H128.28" stroke="#555555" stroke-width="1.0" fill="none"/>
<path d="M139.26 451V469.5M137.16 451H141.36M137.16 469.5H141.36" stroke="#555555" stroke-width="1.0" fill="none"/>
<path d="M152.34 438V465.2M150.24 438H154.44M150.24 465.2H154.44" stroke="#555555" stroke-width="1.0" fill="none"/>
<path d="M165.42 431V459.8M163.32 431H167.52M163.32 459.8H167.52" stroke="#555555" stroke-width="1.0" fill="none"/>
<path d="M178.5 439.4V467.4M176.4 439.4H180.6M176.4 467.4H180.6" stroke="#555555" stroke-width="1.0" fill="none"/>
<path d="M191.58 431.6V460.4M189.48 431.6H193.68M189.48 460.4H193.68" stroke="#555555" stroke-width="1.0" fill="none"/>
<path d="M204.66 452V472M202.56 452H206.76M202.56 472H206.76" stroke="#555555" stroke-width="1.0" fill="none"/>
<path d="M217.74 437V462.2M215.64 437H219.84M215.64 462.2H219.84" stroke="#555555" stroke-width="1.0" fill="none"/>
<polyline points="45.35,451.4 58.43,461.2 71.51,472.8 84.59,471.8 97.67,456.4 110.75,449.4 123.83,445.4 136.91,454 149.99,429 163.07,433.6 176.15,427 189.23,446 202.31,439.6 215.39,450" fill="none" stroke="#2a2a2a" stroke-width="0.9"/>
<polyline points="47.7,468 60.78,466.7 73.86,468.4 86.94,468.4 100.02,470.6 113.1,469 126.18,465.6 139.26,458.5 152.34,451.6 165.42,445.4 178.5,453.6 191.58,446 204.66,462 217.74,449.6" fill="none" stroke="#2a2a2a" stroke-width="0.9"/>
<circle cx="45.35" cy="451.4" r="2.55" fill="#000"/>
<circle cx="58.43" cy="461.2" r="2.55" fill="#000"/>
<circle cx="71.51" cy="472.8" r="2.55" fill="#000"/>
<circle cx="84.59" cy="471.8" r="2.55" fill="#000"/>
<circle cx="97.67" cy="456.4" r="2.55" fill="#000"/>
<circle cx="110.75" cy="449.4" r="2.55" fill="#000"/>
<circle cx="123.83" cy="445.4" r="2.55" fill="#000"/>
<circle cx="136.91" cy="454" r="2.55" fill="#000"/>
<circle cx="149.99" cy="429" r="2.55" fill="#000"/>
<circle cx="163.07" cy="433.6" r="2.55" fill="#000"/>
<circle cx="176.15" cy="427" r="2.55" fill="#000"/>
<circle cx="189.23" cy="446" r="2.55" fill="#000"/>
<circle cx="202.31" cy="439.6" r="2.55" fill="#000"/>
<circle cx="215.39" cy="450" r="2.55" fill="#000"/>
<circle cx="47.7" cy="468" r="2.0999999999999996" fill="#fff" stroke="#222" stroke-width="0.95"/>
<circle cx="60.78" cy="466.7" r="2.0999999999999996" fill="#fff" stroke="#222" stroke-width="0.95"/>
<circle cx="73.86" cy="468.4" r="2.0999999999999996" fill="#fff" stroke="#222" stroke-width="0.95"/>
<circle cx="86.94" cy="468.4" r="2.0999999999999996" fill="#fff" stroke="#222" stroke-width="0.95"/>
<circle cx="100.02" cy="470.6" r="2.0999999999999996" fill="#fff" stroke="#222" stroke-width="0.95"/>
<circle cx="113.1" cy="469" r="2.0999999999999996" fill="#fff" stroke="#222" stroke-width="0.95"/>
<circle cx="126.18" cy="465.6" r="2.0999999999999996" fill="#fff" stroke="#222" stroke-width="0.95"/>
<circle cx="139.26" cy="458.5" r="2.0999999999999996" fill="#fff" stroke="#222" stroke-width="0.95"/>
<circle cx="152.34" cy="451.6" r="2.0999999999999996" fill="#fff" stroke="#222" stroke-width="0.95"/>
<circle cx="165.42" cy="445.4" r="2.0999999999999996" fill="#fff" stroke="#222" stroke-width="0.95"/>
<circle cx="178.5" cy="453.6" r="2.0999999999999996" fill="#fff" stroke="#222" stroke-width="0.95"/>
<circle cx="191.58" cy="446" r="2.0999999999999996" fill="#fff" stroke="#222" stroke-width="0.95"/>
<circle cx="204.66" cy="462" r="2.0999999999999996" fill="#fff" stroke="#222" stroke-width="0.95"/>
<circle cx="217.74" cy="449.6" r="2.0999999999999996" fill="#fff" stroke="#222" stroke-width="0.95"/>
<text x="412.6" y="349.8" font-size="11">Day</text>
<text x="201.9" y="520.0" font-size="11">Day</text>
<text x="73.1" y="488.6" font-size="10.8">Baseline</text>
<text x="150.7" y="488.6" font-size="11">Study bread</text>
<line x1="42.9" y1="529.9" x2="67.6" y2="529.9" stroke="#2a2a2a" stroke-width="1"/>
<circle cx="55.4" cy="529.9" r="2.5" fill="#000"/>
<text x="74.1" y="533.2" font-size="11">Sourdough bread</text>
<line x1="42.9" y1="542.4" x2="67.6" y2="542.4" stroke="#2a2a2a" stroke-width="1"/>
<circle cx="55.4" cy="542.4" r="2.1" fill="#fff" stroke="#222" stroke-width="0.95"/>
<text x="74.1" y="545.7" font-size="11">Yeast-fermented bread</text>
</svg>
</body></html>
